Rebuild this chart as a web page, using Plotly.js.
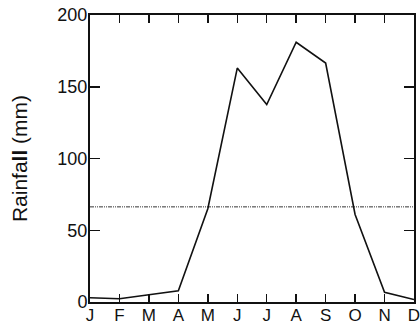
<!DOCTYPE html>
<html>
<head>
<meta charset="utf-8">
<script src="https://cdn.plot.ly/plotly-3.0.1.min.js"></script>
<style>html,body{margin:0;padding:0;background:#fff;}#chart{width:420px;height:327px;}</style>
</head>
<body>
<div id="chart"></div>
<script>
const months = ["J","F","M","A","M","J","J","A","S","O","N","D"];
const monthIndex = [0,1,2,3,4,5,6,7,8,9,10,11];
const rainfall = [3, 2.3, 5, 7.8, 65, 163, 137.6, 181, 166.5, 61, 6.8, 1.7];
const meanRainfall = 66.3;
const yTicks = [0, 50, 100, 150, 200];

const traces = [
  {x: [monthIndex[0], monthIndex[monthIndex.length-1]], y: [meanRainfall, meanRainfall],
   mode: 'lines', line: {color: '#000', width: 0.8, dash: '4px,1px,1px,1px,1px,1px'}, hoverinfo: 'skip'},
  {x: monthIndex, y: rainfall, mode: 'lines', line: {color: '#111', width: 1.6}}
];

const fam = 'Liberation Sans, Arial, sans-serif';
const layout = {
  width: 420, height: 327,
  margin: {l: 90, r: 6, t: 15, b: 25},
  showlegend: false,
  paper_bgcolor: '#fff', plot_bgcolor: '#fff',
  xaxis: {
    range: [0, 11], tickvals: monthIndex, ticktext: months,
    ticks: 'inside', ticklen: 8, tickwidth: 1.5, tickcolor: '#111',
    showline: true, linewidth: 2, linecolor: '#111', mirror: 'ticks',
    showgrid: false, zeroline: false,
    tickfont: {family: fam, size: 17, color: '#111'},
    ticklabelstandoff: -3, ticklabeloverflow: 'allow', automargin: false
  },
  yaxis: {
    range: [0, 200], tickvals: yTicks,
    ticks: 'inside', ticklen: 10, tickwidth: 1.5, tickcolor: '#111',
    showline: true, linewidth: 2, linecolor: '#111', mirror: 'ticks',
    showgrid: false, zeroline: false,
    tickfont: {family: fam, size: 18, color: '#111'},
    ticklabelstandoff: -3, automargin: false,
    title: {text: 'Rainfa<b>ll</b> (mm)', font: {family: fam, size: 21, color: '#111'}, standoff: 24}
  }
};
Plotly.newPlot('chart', traces, layout, {displayModeBar: false, staticPlot: true});
</script>
</body>
</html>
